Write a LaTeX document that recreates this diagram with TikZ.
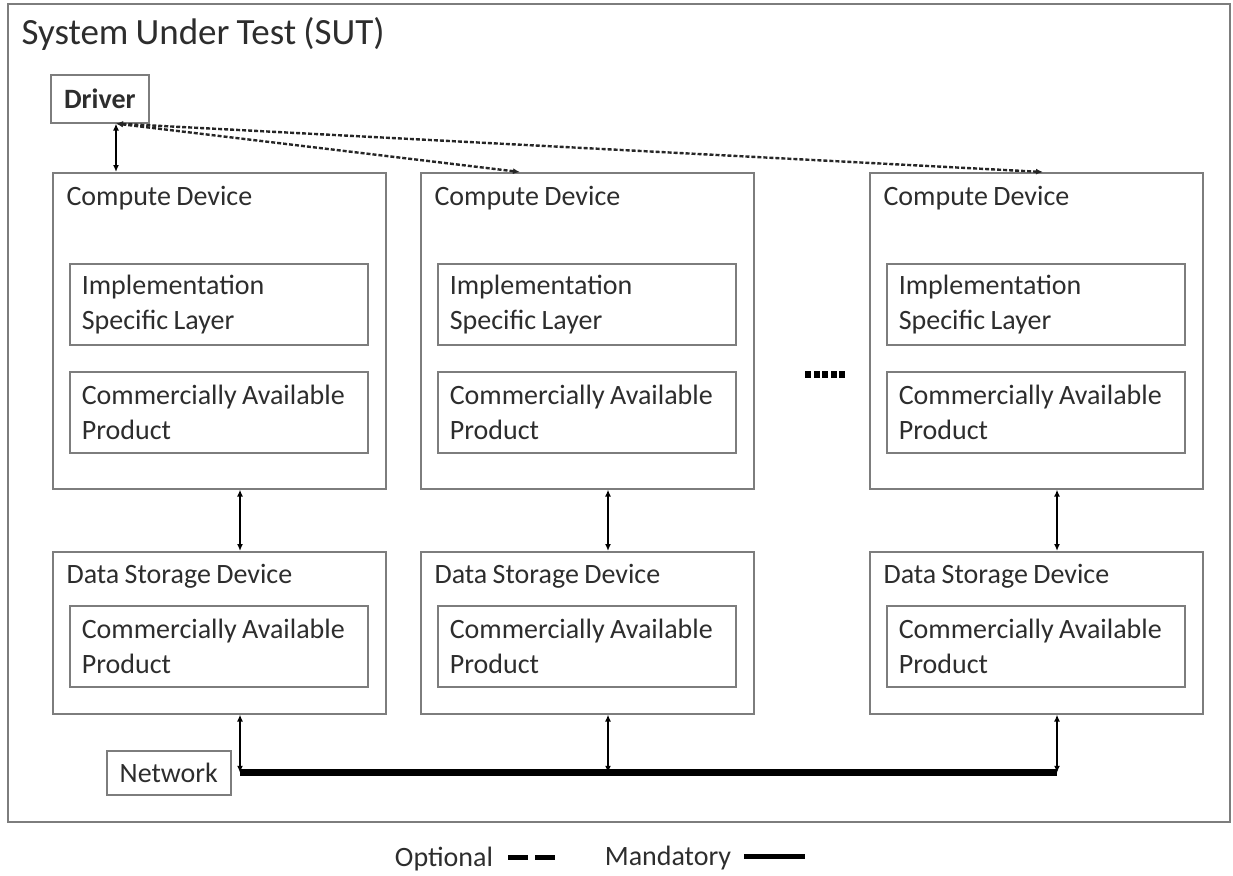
\documentclass[tikz,border=0pt]{standalone}
\usepackage{fontspec}
\setmainfont{Carlito}[WordSpace={0.85,0,0}]
\usetikzlibrary{arrows.meta}
\definecolor{boxgray}{RGB}{125,125,125}
\definecolor{txtgray}{RGB}{45,45,45}
\tikzset{
  box/.style={draw=boxgray, line width=1.6pt, rectangle, anchor=north west, inner sep=0pt},
  txt/.style={text=txtgray, font=\fontsize{28}{35}\selectfont},
  inbox/.style={box, txt, minimum width=298pt, minimum height=81pt, text width=274pt, inner xsep=12pt, align=flush left},
  link/.style={line width=1.8pt, {Latex[length=7pt,width=6pt]}-{Latex[length=7pt,width=6pt]}},
  optlink/.style={link, dash pattern=on 4pt off 2pt, line width=2.4pt, draw=black!85},
  bus/.style={line width=7pt}
}
\begin{document}
\begin{tikzpicture}[x=1pt,y=-1pt]
                \useasboundingbox (0,0) rectangle (1233,875);
                \node [box, minimum width=1222pt, minimum height=818pt] (sut) at (7,3) {};
                \node [txt, font=\fontsize{37}{44}\selectfont, anchor=base west] (suttitle) at (18,45) {System Under Test (SUT)};
                \node [box, txt, font=\fontsize{28}{35}\selectfont\bfseries, minimum width=98pt, minimum height=48pt] (drv) at (50,74) {Driver};
                \node [box, txt, minimum width=124pt, minimum height=44pt] (net) at (106,750) {Network};
                \foreach \i/\x in {1/52,2/420,3/869}{
                    \node [box, minimum width=333pt, minimum height=316pt] (cd\i) at (\x,172) {};
                    \node [txt, anchor=base west] (cdt\i) at (\x+11,205) {Compute Device};
                    \node [inbox] (isl\i) at (\x+17,263) {Implementation\\Specific Layer};
                    \node [inbox] (cap\i) at (\x+17,371) {Commercially Available\\Product};
                    \node [box, minimum width=333pt, minimum height=162pt] (ds\i) at (\x,551) {};
                    \node [txt, anchor=base west] (dst\i) at (\x+11,583) {Data Storage Device};
                    \node [inbox] (dscap\i) at (\x+17,605) {Commercially Available\\Product};
                    \coordinate (cb\i) at ([xshift=188pt]cd\i.south west);
                    \coordinate (db\i) at ([xshift=188pt]ds\i.south west);
                    \draw [link] (cb\i) -- (cb\i |- ds\i.north);
                    \draw [link] (db\i) -- (db\i |- net.east);
                }
                \draw [bus] (db1 |- net.east) -- (db3 |- net.east);
                \coordinate (dr) at ([xshift=66pt]drv.south west);
                \draw [link] (dr) -- (dr |- cd1.north);
                \draw [optlink] (dr) -- ([xshift=100pt]cd2.north west);
                \draw [optlink] (dr) -- ([xshift=174pt]cd3.north west);
                % dots between the columns
                \foreach \k in {0,...,4} \fill (805+\k*8.5,371) rectangle ++(6,7);
                % legend
                \node [txt, anchor=base] (opt) at (444,866) {Optional};
                \draw [line width=5pt, dash pattern=on 20pt off 7pt] (508,857) -- (556,857);
                \node [txt, anchor=base] (mand) at (668,865) {Mandatory};
                \draw [line width=5pt] (744,856) -- (805,856);
            \end{tikzpicture}
\end{document}
